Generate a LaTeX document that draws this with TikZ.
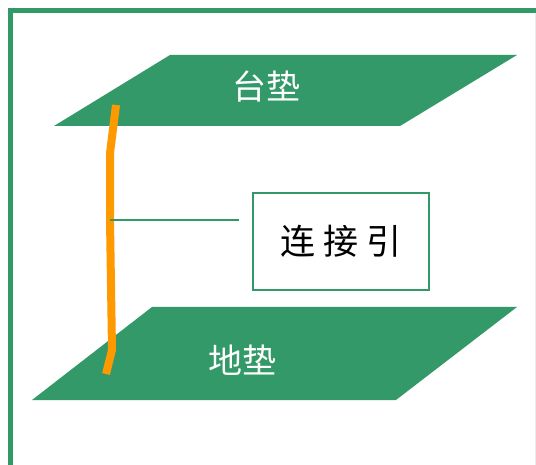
\documentclass[tikz,border=0pt]{standalone}
\usepackage{fontspec}
\newfontfamily\cjk{Noto Sans CJK SC}
\definecolor{padgreen}{RGB}{52,153,104}
\definecolor{wireorange}{RGB}{255,153,0}
\begin{document}
\begin{tikzpicture}[x=1pt,y=-1pt,
  pad/.style={fill=padgreen,draw=none},
  padlabel/.style={text=white,font=\cjk\fontsize{34}{38}\selectfont,inner sep=0pt},
  frame/.style={draw=padgreen,line width=5pt},
  wire/.style={draw=wireorange,line width=8pt},
  leader/.style={draw=padgreen,line width=1.4pt},
  callout/.style={draw=padgreen,line width=1.4pt,fill=white,minimum width=176pt,minimum height=97pt,inner sep=0pt,font=\cjk\fontsize{35}{40}\selectfont}]
\useasboundingbox (0,0) rectangle (536,465);
\fill[white] (0,0) rectangle (536,465);
% frame
\draw[frame] (10.5,465) -- (10.5,10.5) -- (536,10.5);
\draw[gray!15,line width=0.8pt] (535.5,13) -- (535.5,465);
% pads
\fill[pad] (54,126) -- (400,126) -- (517,55) -- (170,55) -- cycle;
\fill[pad] (32,400) -- (396,400) -- (517,307) -- (152,307) -- cycle;
\node[padlabel] (top) at (266,86) {台垫};
\node[padlabel] (bot) at (242,360) {地垫};
% wire
\coordinate (w1) at (116,105);
\coordinate (w2) at (110,153);
\coordinate (w3) at (110,220);
\coordinate (w4) at (112,350);
\coordinate (w5) at (106,374);
\draw[wire] (w1) -- (w2) -- (w3) -- (w4) -- (w5);
% callout
\node[callout] (lbl) at (341,241.5) {连\hspace{8pt}接\hspace{8pt}引};
\coordinate (le) at (239,220);
\draw[leader] (w3) -- (le);
\end{tikzpicture}
\end{document}
